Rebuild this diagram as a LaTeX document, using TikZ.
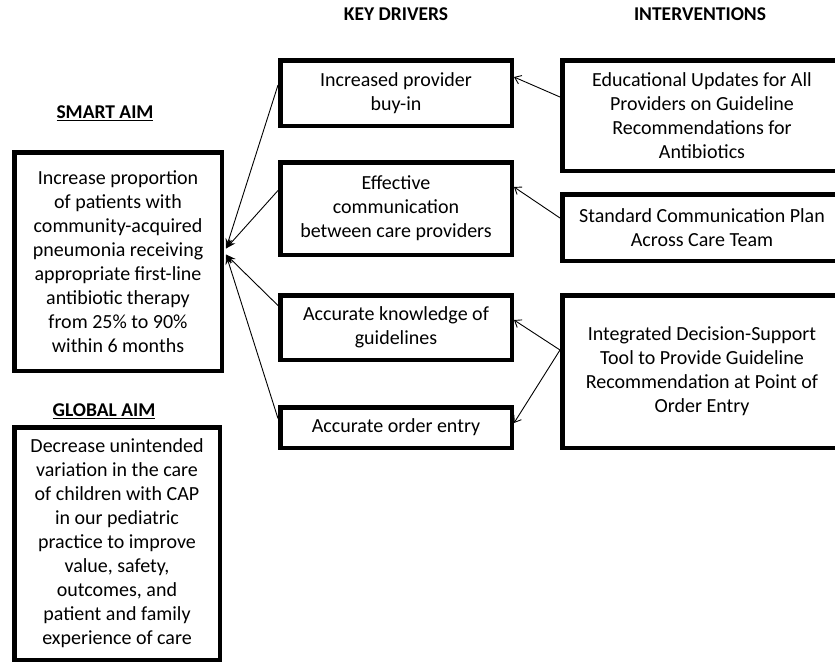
\documentclass[tikz,border=0pt]{standalone}
\usepackage{fontspec}
\setmainfont{Carlito}
\usetikzlibrary{arrows.meta}
\begin{document}
\begin{tikzpicture}[x=1pt,y=-1pt,
  box/.style={draw=black,line width=4.5pt,align=center,inner sep=0pt,
    font=\fontsize{20}{24}\selectfont},
  hdr/.style={font=\fontsize{19.5}{22}\selectfont\bfseries,inner sep=0pt},
  toaim/.style={line width=0.9pt,-{Stealth[length=10pt,width=7pt]}},
  todrv/.style={line width=0.9pt,-{Straight Barb[length=6pt,width=9pt]}}]
\useasboundingbox (0,0) rectangle (835,665);
\clip (0,0) rectangle (835,665);
\fill[white] (0,0) rectangle (835,665);

% headers
\node[hdr] (hkd) at (396,14) {KEY DRIVERS};
\node[hdr] (hint) at (700,14) {INTERVENTIONS};
\node[hdr] (hsa) at (105,113) {\underline{SMART AIM}};
\node[hdr] (hga) at (104,411) {\underline{GLOBAL AIM}};

% aims
\node[box,minimum width=207.5pt,minimum height=218.5pt] (smart) at (118,261.5)
  {Increase proportion\\of patients with\\community-acquired\\pneumonia receiving\\appropriate first-line\\antibiotic therapy\\from 25\% to 90\%\\within 6 months};
\node[box,minimum width=205.5pt,minimum height=232.5pt] (global) at (117,543.5)
  {Decrease unintended\\variation in the care\\of children with CAP\\in our pediatric\\practice to improve\\value, safety,\\outcomes, and\\patient and family\\experience of care};

% key drivers
\node[box,minimum width=231.5pt,minimum height=65.5pt] (d1) at (396,93)
  {Increased provider\\buy-in};
\node[box,minimum width=231.5pt,minimum height=92.5pt] (d2) at (396,208.5)
  {Effective\\communication\\between care providers};
\node[box,minimum width=231.5pt,minimum height=64.5pt] (d3) at (396,327.5)
  {Accurate knowledge of\\guidelines};
\node[box,minimum width=231.5pt,minimum height=40.5pt] (d4) at (396,427.5)
  {Accurate order entry};

% interventions
\node[box,minimum width=279.5pt,minimum height=110.5pt] (i1) at (702,115.5)
  {Educational Updates for All\\Providers on Guideline\\Recommendations for\\Antibiotics};
\node[box,minimum width=279.5pt,minimum height=66.5pt] (i2) at (702,227.5)
  {Standard Communication Plan\\Across Care Team};
\node[box,minimum width=279.5pt,minimum height=152.5pt] (i3) at (702,371.5)
  {Integrated Decision-Support\\Tool to Provide Guideline\\Recommendation at Point of\\Order Entry};

% drivers to aim
\draw[toaim] ([yshift=8pt]d1.west) -- ([yshift=13pt,xshift=2pt]smart.east);
\draw[toaim] ([yshift=18pt]d2.west) -- ([yshift=13pt,xshift=2pt]smart.east);
\draw[toaim] ([yshift=22pt]d3.west) -- ([yshift=7pt,xshift=2pt]smart.east);
\draw[toaim] ([yshift=9pt]d4.west) -- ([yshift=7pt,xshift=2pt]smart.east);

% interventions to drivers
\draw[todrv] ([yshift=18.5pt]i1.west) -- ([yshift=16pt]d1.east);
\draw[todrv] ([yshift=9.5pt]i2.west) -- ([yshift=21.5pt]d2.east);
\draw[todrv] ([yshift=21.5pt]i3.west) -- ([yshift=7.5pt]d3.east);
\draw[todrv] ([yshift=21.5pt]i3.west) -- ([yshift=4.5pt]d4.east);
\end{tikzpicture}
\end{document}
